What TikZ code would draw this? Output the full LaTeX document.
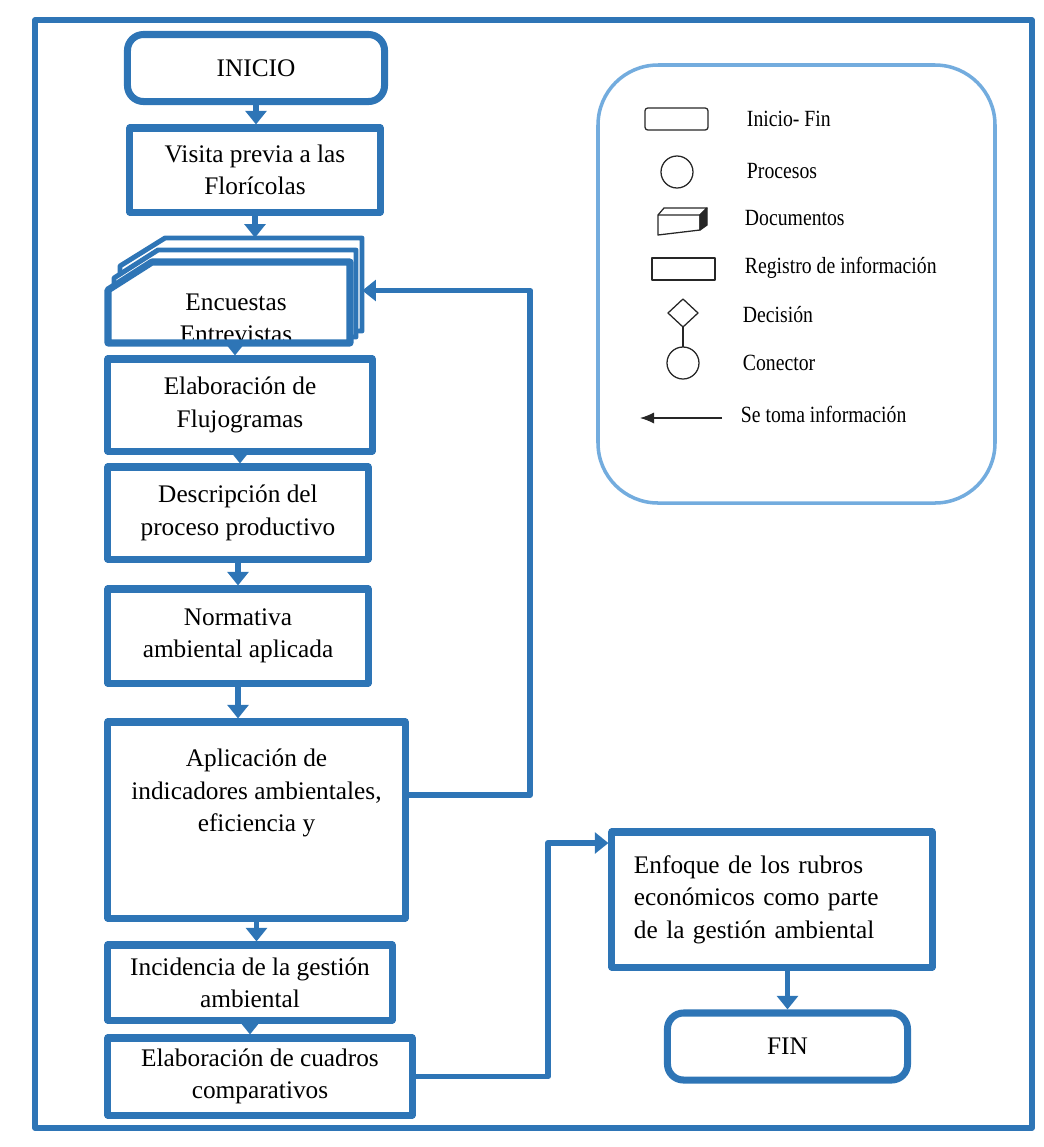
\documentclass[tikz,border=0pt]{standalone}
\usepackage{fontspec}
\setmainfont{Liberation Serif}
\newfontfamily\leyendafont[FakeStretch=0.85]{Liberation Serif}
\usetikzlibrary{arrows.meta,positioning}
\definecolor{azul}{RGB}{46,117,182}
\definecolor{celeste}{RGB}{115,172,222}
\begin{document}
\begin{tikzpicture}[x=0.025cm,y=-0.025cm,line join=round,
		font=\fontsize{18}{23}\selectfont,
		caja/.style={draw=azul,line width=5pt,fill=white,align=center,inner sep=2pt},
		redonda/.style={caja,rounded corners=0.4cm},
		flujo/.style={draw=azul,line width=4.2pt,-{Triangle[width=0.52cm,length=0.34cm]}},
		simbolo/.style={draw=black!85,line width=0.9pt},
		leyenda/.style={font=\leyendafont\fontsize{16.5}{18}\selectfont,anchor=west}]
	\useasboundingbox (0,0) rectangle (1044,1147);
	\draw[azul,line width=4pt] (35,20) rectangle (1032,1128);
	% leyenda
	\draw[celeste,line width=2.5pt,rounded corners=1.5cm] (598,65) rectangle (995,503);
	\draw[simbolo,rounded corners=2pt] (645,108) rectangle (708,130);
	\node[leyenda] (tInicioFin) at (742,119) {Inicio- Fin};
	\draw[simbolo] (677,172) circle (0.4cm);
	\node[leyenda] (tProcesos) at (742,171) {Procesos};
	\draw[simbolo] (658,215) -- (700,215) -- (700,230) -- (658,235) -- cycle;
	\draw[simbolo] (658,215) -- (664,208) -- (707,208) -- (700,215);
	\filldraw[simbolo,fill=black!85] (700,215) -- (707,208) -- (707,225) -- (700,230) -- cycle;
	\node[leyenda] (tDocumentos) at (740,218) {Documentos};
	\draw[simbolo] (652,258) rectangle (715,280);
	\node[leyenda] (tRegistro) at (740,268) {Registro de información};
	\draw[simbolo] (683,299) -- (698,313) -- (683,327) -- (668,313) -- cycle;
	\draw[simbolo] (683,327) -- (683,347);
	\draw[simbolo] (683,363) circle (0.4cm);
	\node[leyenda] (tDecision) at (738,315) {Decisión};
	\node[leyenda] (tConector) at (738,363) {Conector};
	\draw[simbolo,-{Latex[length=0.35cm,width=0.28cm]}] (722,418) -- (640,418);
	\node[leyenda] (tSeToma) at (736,414) {Se toma información};
	% cajas del flujo
	\node[redonda,minimum width=6.425cm,minimum height=1.675cm] (inicio) at (256,68) {INICIO};
	\node[caja,minimum width=6.25cm,minimum height=2.1cm] (visita) at (255,170) {Visita previa a las\\Florícolas};
	\draw[azul,line width=3.5pt,fill=white] (120,266) -- (165,238) -- (362,238) -- (362,331) -- (120,331) -- cycle;
	\draw[azul,line width=3.5pt,fill=white] (114,278) -- (158,250) -- (356,250) -- (356,337) -- (114,337) -- cycle;
	\fill[white] (108,290) -- (152,262) -- (350,262) -- (350,343) -- (108,343) -- cycle;
	\node[minimum width=6.35cm,minimum height=2.625cm] (encuestas) at (235,290.5) {};
	\node[align=center] (tEncuestas) at (236,318) {Encuestas\\Entrevistas};
	\draw[azul,line width=5pt] (108,290) -- (152,262) -- (350,262) -- (350,343) -- (108,343) -- cycle;
	\node[caja,minimum width=6.6cm,minimum height=2.3cm] (elab) at (240,405) {Elaboración de\\Flujogramas};
	\node[caja,minimum width=6.5cm,minimum height=2.3cm] (desc) at (238,513) {Descripción del\\proceso productivo};
	\node[caja,minimum width=6.5cm,minimum height=2.35cm] (norm) at (238,636) {Normativa\\ambiental aplicada};
	\node[caja,minimum width=7.425cm,minimum height=4.9cm] (apl) at (256.5,820) {};
	\node[align=center] (tApl) at (256.5,793) {Aplicación de\\indicadores ambientales,\\eficiencia y};
	\node[caja,minimum width=7.1cm,minimum height=1.875cm] (inc) at (250,982.5) {Incidencia de la gestión\\ambiental};
	\node[caja,minimum width=7.6cm,minimum height=1.925cm] (cuad) at (260,1076.5) {Elaboración de cuadros\\comparativos};
	\node[caja,align=left,text width=6.9cm,inner xsep=0.55cm,minimum height=3.375cm] (enf) at (772,899.5) {Enfoque de los rubros\\económicos como parte\\de la gestión ambiental};
	\node[redonda,minimum width=6cm,minimum height=1.675cm] (fin) at (787.5,1046.5) {FIN};
	% conectores
	\coordinate (lazo) at (530,795);
	\coordinate (giro) at (548,843);
	\draw[flujo] (inicio) -- (inicio |- visita.north);
	\draw[flujo] (visita) -- (visita |- encuestas.north);
	\draw[flujo] (encuestas) -- (encuestas |- elab.north);
	\draw[flujo] (elab) -- (elab |- desc.north);
	\draw[flujo] (desc) -- (desc |- norm.north);
	\draw[flujo] (norm) -- (norm |- apl.north);
	\draw[flujo] (apl) -- (apl |- inc.north);
	\draw[flujo] (inc) -- (inc |- cuad.north);
	\draw[flujo] (apl.east |- lazo) -- (lazo) |- (encuestas.east);
	\draw[flujo] (cuad.east) -| (giro) -- (giro -| enf.west);
	\draw[flujo] (enf.south -| fin) -- (fin);
\end{tikzpicture}
\end{document}
